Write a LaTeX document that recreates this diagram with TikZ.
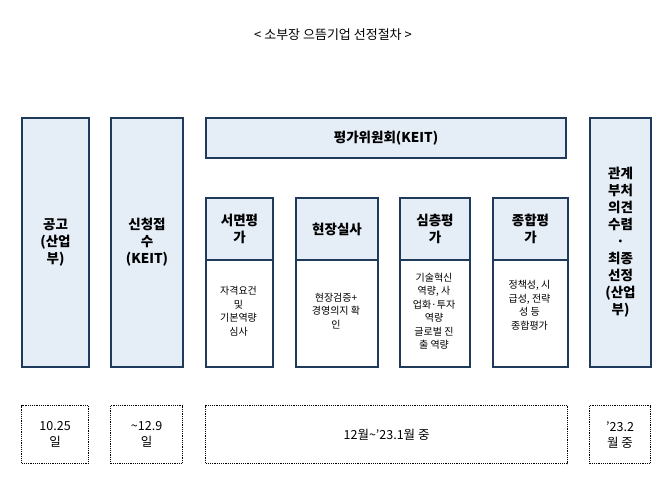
\documentclass[tikz,border=0pt]{standalone}
\usepackage{fontspec}
\setmainfont{Noto Sans CJK KR}
\usepackage{tikz}
\definecolor{navy}{HTML}{1F3A5A}
\definecolor{paleblue}{HTML}{E5EDF7}
\tikzset{
  stagebox/.style={draw=navy, line width=2pt, fill=paleblue, anchor=north west, inner sep=1pt, align=center, font=\fontsize{13.5}{17}\selectfont\bfseries},
  detailbox/.style={draw=navy, line width=2pt, fill=white, anchor=north west, inner sep=1pt},
  notetext/.style={font=\fontsize{10}{13.5}\selectfont, align=center},
  datebox/.style={draw, densely dotted, line width=1.2pt, anchor=north west, inner sep=1pt, align=center, font=\fontsize{12.5}{16}\selectfont}
}
\begin{document}
\begin{tikzpicture}[x=1pt, y=-1pt]
  \useasboundingbox (0,0) rectangle (666,490);
  \node (title) at (333,35) {\fontsize{13}{15}\selectfont < 소부장 으뜸기업 선정절차 >};

  \node (notice) [stagebox, minimum width=67pt, minimum height=249pt] at (21,117) {공고\\(산업\\부)};
  \node (apply) [stagebox, minimum width=72pt, minimum height=249pt] at (110,117) {신청접\\수\\(KEIT)};
  \node (committee) [stagebox, minimum width=360pt, minimum height=40pt] at (205,117) {평가위원회(KEIT)};
  \node (final) [stagebox, minimum width=61pt, minimum height=249pt] at (589,117) {관계\\부처\\의견\\수렴\\·\\최종\\선정\\(산업\\부)};

  % sub-stages
  \node (docbody) [detailbox, minimum width=67pt, minimum height=169pt] at (205,197) {};
  \node (doc) [stagebox, minimum width=67pt, minimum height=62pt] at (205,197) {서면평\\가};
  \node (docnote) [notetext] at (238.5,311) {자격요건\\및\\기본역량\\심사};

  \node (sitebody) [detailbox, minimum width=82pt, minimum height=169pt] at (295,197) {};
  \node (site) [stagebox, minimum width=82pt, minimum height=62pt] at (295,197) {현장실사};
  \node (sitenote) [notetext] at (336,311) {현장검증+\\경영의지 확\\인};

  \node (deepbody) [detailbox, minimum width=70pt, minimum height=169pt] at (399,197) {};
  \node (deep) [stagebox, minimum width=70pt, minimum height=62pt] at (399,197) {심층평\\가};
  \node (deepnote) [notetext] at (434,311) {기술혁신\\역량, 사\\업화·투자\\역량\\글로벌 진\\출 역량};

  \node (totalbody) [detailbox, minimum width=75pt, minimum height=169pt] at (492,197) {};
  \node (total) [stagebox, minimum width=75pt, minimum height=62pt] at (492,197) {종합평\\가};
  \node (totalnote) [notetext] at (529.5,305) {정책성, 시\\급성, 전략\\성 등\\종합평가};

  % schedule
  \node (d1) [datebox, minimum width=67pt, minimum height=58pt] at (21,405) {10.25\\일};
  \node (d2) [datebox, minimum width=72pt, minimum height=58pt] at (110,405) {\textasciitilde12.9\\일};
  \node (d3) [datebox, minimum width=362pt, minimum height=58pt] at (205,405) {12월\textasciitilde’23.1월 중};
  \node (d4) [datebox, minimum width=61pt, minimum height=58pt] at (589,405) {’23.2\\월 중};
\end{tikzpicture}
\end{document}
